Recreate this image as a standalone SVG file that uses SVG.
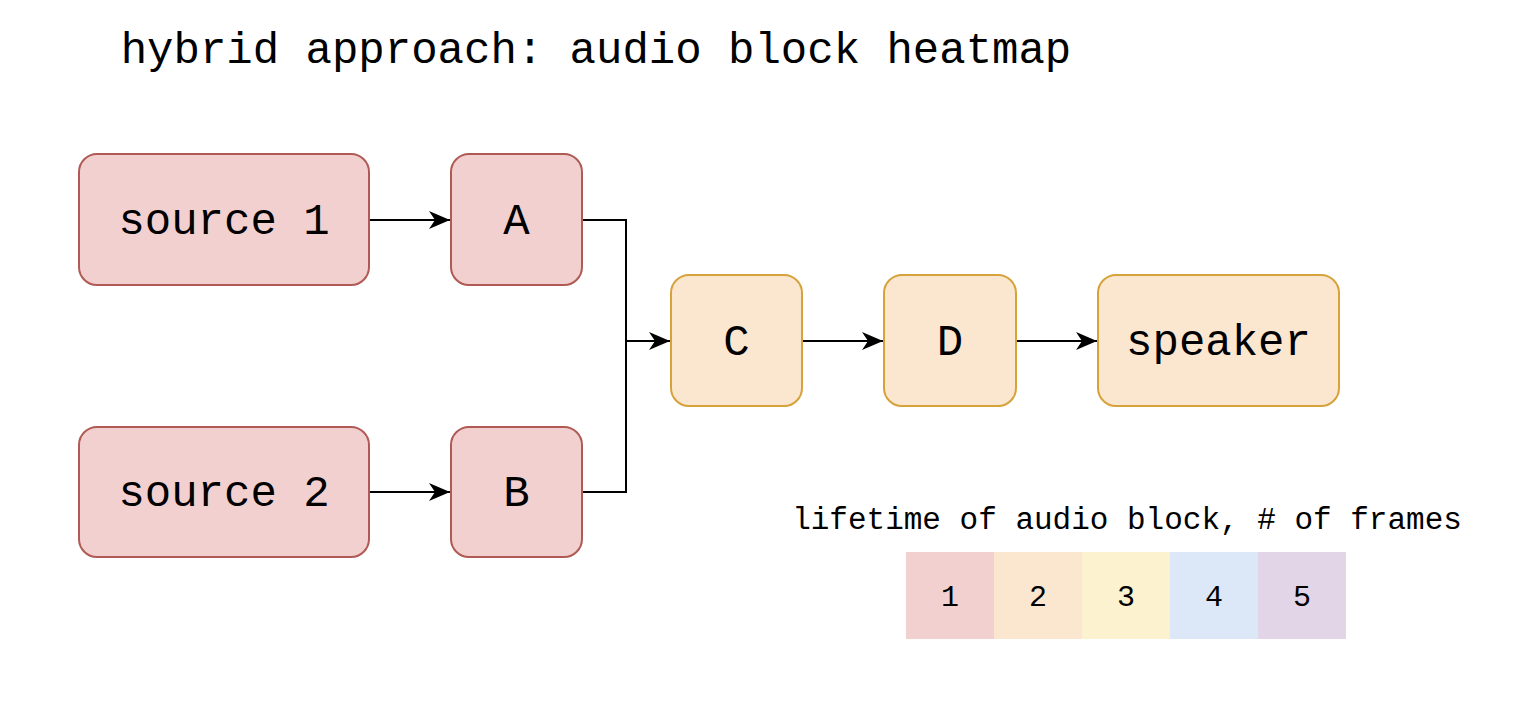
<svg xmlns="http://www.w3.org/2000/svg" width="1532" height="726" viewBox="0 0 1532 726">
<defs>
<marker id="arr" markerWidth="22" markerHeight="20" refX="21" refY="10" orient="auto" markerUnits="userSpaceOnUse" overflow="visible">
<path d="M0,1 L21,10 L0,19 L6,10 Z" fill="#000"/>
</marker>
<style>
.red rect{fill:#f2d0cf;stroke:#b05a55;stroke-width:2}
.org rect{fill:#fbe6d0;stroke:#d6a23a;stroke-width:2}
text{font-family:"Courier New","Liberation Mono",monospace;fill:#000;text-anchor:middle}
.lbl{font-size:44px}
.leg{font-size:31px}
.num{font-size:30px}
.conn path{fill:none;stroke:#000;stroke-width:2}
</style>
</defs>
<rect width="1532" height="726" fill="#fff"/>
<text class="lbl" x="596" y="63">hybrid approach: audio block heatmap</text>
<g class="conn" id="connectors">
<path d="M369,220 H450" marker-end="url(#arr)"/>
<path d="M369,492 H450" marker-end="url(#arr)"/>
<path d="M582,220 H626 V341 H670" marker-end="url(#arr)"/>
<path d="M582,492 H626 V341"/>
<path d="M802,341 H883" marker-end="url(#arr)"/>
<path d="M1016,341 H1097" marker-end="url(#arr)"/>
</g>
<g id="source1" class="red"><rect x="79" y="154" width="290" height="131" rx="18"/><text class="lbl" x="224" y="234">source 1</text></g>
<g id="A" class="red"><rect x="451" y="154" width="131" height="131" rx="18"/><text class="lbl" x="516.5" y="234">A</text></g>
<g id="source2" class="red"><rect x="79" y="427" width="290" height="130" rx="18"/><text class="lbl" x="224" y="506">source 2</text></g>
<g id="B" class="red"><rect x="451" y="427" width="131" height="130" rx="18"/><text class="lbl" x="516.5" y="506">B</text></g>
<g id="C" class="org"><rect x="671" y="275" width="131" height="131" rx="18"/><text class="lbl" x="736.5" y="355">C</text></g>
<g id="D" class="org"><rect x="884" y="275" width="132" height="131" rx="18"/><text class="lbl" x="950" y="355">D</text></g>
<g id="speaker" class="org"><rect x="1098" y="275" width="241" height="131" rx="18"/><text class="lbl" x="1218.5" y="355">speaker</text></g>
<g id="legend">
<text class="leg" x="1127" y="529">lifetime of audio block, # of frames</text>
<rect x="906" y="552" width="88" height="87" fill="#f2d0cf"/>
<rect x="994" y="552" width="88" height="87" fill="#fbe6d0"/>
<rect x="1082" y="552" width="88" height="87" fill="#fcf2cf"/>
<rect x="1170" y="552" width="88" height="87" fill="#dce8f8"/>
<rect x="1258" y="552" width="88" height="87" fill="#e1d5e7"/>
<text class="num" x="950" y="606">1</text>
<text class="num" x="1038" y="606">2</text>
<text class="num" x="1126" y="606">3</text>
<text class="num" x="1214" y="606">4</text>
<text class="num" x="1302" y="606">5</text>
</g>
</svg>
